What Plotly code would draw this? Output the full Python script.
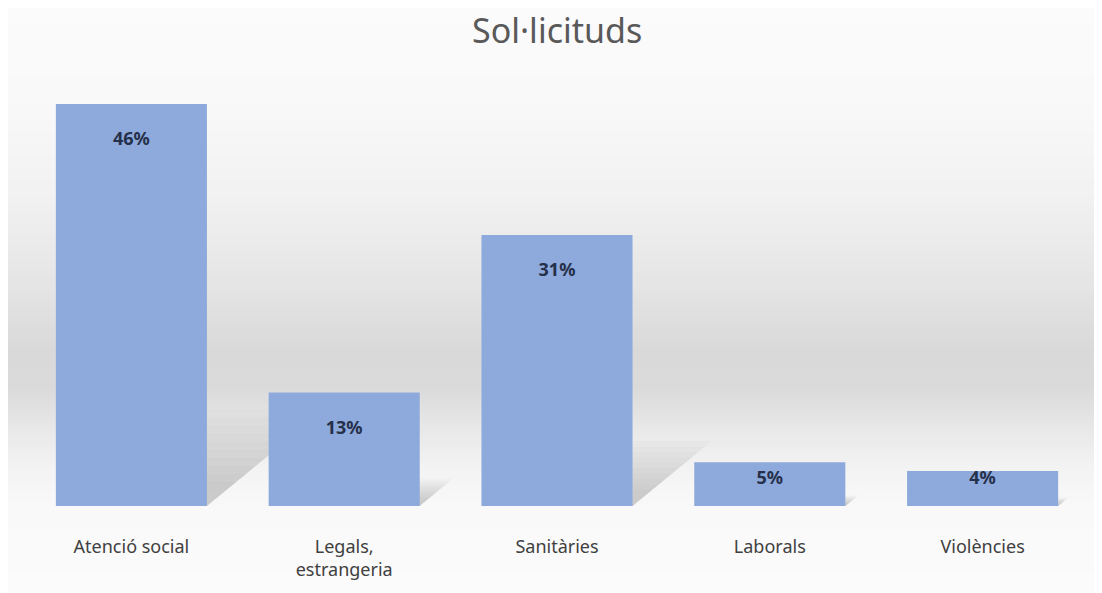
import plotly.graph_objects as go

# Data
categories = ["Atenció social", "Legals,<br>estrangeria", "Sanitàries", "Laborals", "Violències"]
percentages = [46, 13, 31, 5, 4]
title_text = "Sol·licituds"

BAR_COLOR = "#8EA9DB"
LABEL_COLOR = "#25304a"
TEXT_GREY = "#595959"
FONT = "Noto Sans"

# the page body adds an 8px margin, so the figure is shrunk and shifted by it
PAGE_OFFSET = 8
FIG_W, FIG_H = 1102 - PAGE_OFFSET, 593 - PAGE_OFFSET
PLOT_TOP, PLOT_BOTTOM = 69 - PAGE_OFFSET, 508 - PAGE_OFFSET
PLOT_LEFT, PLOT_RIGHT = 25 - PAGE_OFFSET, 1089 - PAGE_OFFSET
PLOT_H = PLOT_BOTTOM - PLOT_TOP
PLOT_W = PLOT_RIGHT - PLOT_LEFT


def paper_y(px):
    return (PLOT_BOTTOM - px) / PLOT_H


# grey vertical gradient of the chart background: (page pixel y, grey level)
gradient_stops = [(0, 251), (100, 249), (200, 241), (290, 228), (350, 217),
                  (390, 218), (430, 232), (470, 243), (510, 249), (593, 251)]


def grey_at(py):
    for (y0, g0), (y1, g1) in zip(gradient_stops, gradient_stops[1:]):
        if y0 <= py <= y1:
            t = (py - y0) / (y1 - y0)
            return round(g0 + (g1 - g0) * t)
    return gradient_stops[-1][1]


def background_shapes():
    shapes = []
    step = 3
    x0 = -(PLOT_LEFT + 2) / PLOT_W
    x1 = (FIG_W - PLOT_LEFT + 2) / PLOT_W
    for py in range(-2, FIG_H + 3, step):
        g = grey_at(py + PAGE_OFFSET + step / 2)
        shapes.append(dict(
            type="rect", xref="paper", yref="paper",
            x0=x0, x1=x1, y0=paper_y(py + step + 1), y1=paper_y(py),
            fillcolor=f"rgb({g},{g},{g})", line_width=0, layer="below",
        ))
    return shapes


def shadow_shapes(half_width):
    # soft perspective shadow falling up and right from each bar's base
    shapes = []
    n = 10
    for i, v in enumerate(percentages):
        for j in range(n):
            k = 1.0 - 0.75 * j / (n - 1)
            s = 0.24 * v * k
            d = 0.012 * v * k
            xl, xr = i - half_width, i + half_width
            path = f"M {xl},0 L {xr},0 L {xr + d},{s} L {xl + d},{s} Z"
            shapes.append(dict(
                type="path", xref="x", yref="y", path=path,
                fillcolor="rgba(110,110,110,0.035)", line_width=0, layer="below",
            ))
    return shapes


fig = go.Figure()

fig.add_trace(go.Bar(
    x=list(range(len(categories))),
    y=percentages,
    marker=dict(color=BAR_COLOR, line=dict(width=0)),
    hoverinfo="skip",
))

# value labels inside the top of each bar
label_y = [max(v - 4.2, 3.0) for v in percentages]
fig.add_trace(go.Scatter(
    x=list(range(len(categories))),
    y=label_y,
    mode="text",
    text=[f"<b>{v}%</b>" for v in percentages],
    textfont=dict(family=FONT, size=18, color=LABEL_COLOR),
    hoverinfo="skip",
))

bargap = 0.29
fig.update_layout(
    width=FIG_W,
    height=FIG_H,
    margin=dict(l=PLOT_LEFT, r=FIG_W - PLOT_RIGHT, t=PLOT_TOP, b=FIG_H - PLOT_BOTTOM),
    paper_bgcolor="white",
    plot_bgcolor="rgba(0,0,0,0)",
    showlegend=False,
    bargap=bargap,
    shapes=background_shapes() + shadow_shapes((1 - bargap) / 2),
    font=dict(family=FONT, color=TEXT_GREY),
    annotations=[dict(
        text=title_text, xref="paper", yref="paper", x=0.5, y=paper_y(-3),
        xanchor="center", yanchor="top", showarrow=False,
        font=dict(family=FONT, size=34, color=TEXT_GREY),
    )],
)

fig.update_xaxes(
    tickmode="array",
    tickvals=list(range(len(categories))),
    ticktext=categories,
    range=[-0.5, len(categories) - 0.5],
    showgrid=False,
    zeroline=False,
    showline=False,
    ticks="",
    ticklabelstandoff=28,
    tickfont=dict(family=FONT, size=18, color="#404040"),
)
fig.update_yaxes(
    range=[0, 50],
    visible=False,
    showgrid=False,
)

fig.write_html("out.html")
